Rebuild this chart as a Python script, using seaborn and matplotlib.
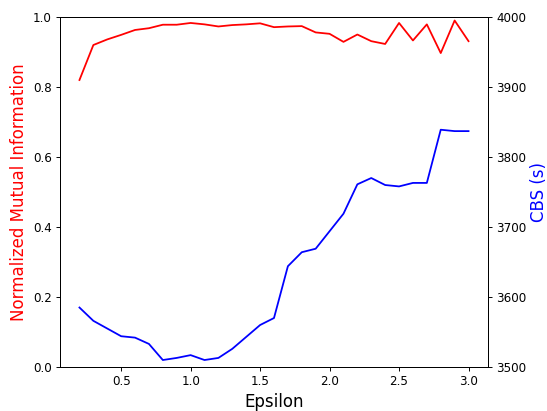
import matplotlib
matplotlib.use("Agg")
import matplotlib.pyplot as plt
import seaborn as sns
import pandas as pd

epsilon = [0.2, 0.3, 0.4, 0.5, 0.6, 0.7, 0.8, 0.9, 1.0, 1.1, 1.2, 1.3, 1.4, 1.5,
           1.6, 1.7, 1.8, 1.9, 2.0, 2.1, 2.2, 2.3, 2.4, 2.5, 2.6, 2.7, 2.8, 2.9, 3.0]
nmi = [0.820, 0.920, 0.936, 0.949, 0.963, 0.968, 0.978, 0.978, 0.983, 0.979,
       0.973, 0.977, 0.979, 0.982, 0.971, 0.973, 0.974, 0.956, 0.952, 0.929,
       0.950, 0.931, 0.923, 0.983, 0.933, 0.979, 0.897, 0.990, 0.931]
cbs = [3585, 3566, 3555, 3544, 3542, 3533, 3510, 3513, 3517, 3510,
       3513, 3526, 3543, 3560, 3570, 3644, 3664, 3669, 3694, 3719,
       3761, 3770, 3760, 3758, 3763, 3763, 3839, 3837, 3837]

df = pd.DataFrame({"Epsilon": epsilon, "NMI": nmi, "CBS": cbs})

DPI = 547 / 6.4
fig, ax1 = plt.subplots(figsize=(6.4, 411 / DPI), dpi=DPI)
fig.subplots_adjust(left=0.1097, right=0.8921, bottom=0.107, top=0.9586)

sns.lineplot(data=df, x="Epsilon", y="NMI", color="red", ax=ax1)
ax1.set_ylim(0, 1)
ax1.set_xlabel("Epsilon", fontsize=14)
ax1.set_ylabel("Normalized Mutual Information", color="red", fontsize=14)

ax2 = ax1.twinx()
sns.lineplot(data=df, x="Epsilon", y="CBS", color="blue", ax=ax2)
ax2.set_ylim(3500, 4000)
ax2.set_ylabel("CBS (s)", color="blue", fontsize=14, labelpad=3)

fig.savefig("out.png", dpi=DPI)
